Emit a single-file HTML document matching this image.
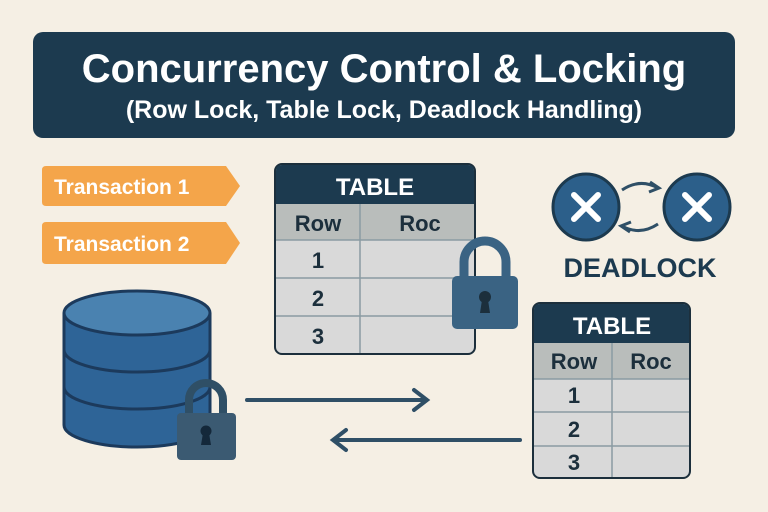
<!DOCTYPE html>
<html><head><style>body{margin:0;background:#f5efe4}svg{display:block}</style></head><body>
<svg width="768" height="512" viewBox="0 0 768 512" xmlns="http://www.w3.org/2000/svg" font-family="Liberation Sans, sans-serif" font-weight="bold">
<rect width="768" height="512" fill="#f5efe4"/>
<rect x="33" y="32" width="702" height="106" rx="10" fill="#1c3a4f"/>
<text x="384" y="82" font-size="40" fill="#fff" text-anchor="middle">Concurrency Control &amp; Locking</text>
<text x="384" y="118" font-size="25" fill="#fff" text-anchor="middle">(Row Lock, Table Lock, Deadlock Handling)</text>
<path d="M42 170 q0-4 4-4 H226 L240 186 L226 206 H46 q-4 0-4-4Z" fill="#f4a54a"/>
<path d="M42 226 q0-4 4-4 H226 L240 243 L226 264 H46 q-4 0-4-4Z" fill="#f4a54a"/>
<text x="54" y="194" font-size="21" fill="#fff">Transaction 1</text>
<text x="54" y="251" font-size="21" fill="#fff">Transaction 2</text>
<!-- table 1 -->
<g>
<rect x="275" y="164" width="200" height="190" rx="7" fill="#d9d9d9" stroke="#1c2f3c" stroke-width="2"/>
<path d="M276 204 V171 q0-6 6-6 H468 q6 0 6 6 V204Z" fill="#1c3a4f"/>
<rect x="276" y="204" width="198" height="36" fill="#b9bdbb"/>
<g stroke="#8a9ba3" stroke-width="1.5"><line x1="360" y1="204" x2="360" y2="353"/><line x1="276" y1="240" x2="474" y2="240"/><line x1="276" y1="278" x2="474" y2="278"/><line x1="276" y1="316" x2="474" y2="316"/></g>
<text x="375" y="195" font-size="24" fill="#fff" text-anchor="middle">TABLE</text>
<g font-size="22" fill="#1c2f3c" text-anchor="middle"><text x="318" y="231">Row</text><text x="420" y="231">Roc</text><text x="318" y="268">1</text><text x="318" y="306">2</text><text x="318" y="344">3</text></g>
</g>
<!-- lock1 -->
<path d="M464 278 V262 a21 21 0 0 1 42 0 V278" fill="none" stroke="#3a6383" stroke-width="9"/>
<rect x="452" y="276" width="66" height="53" rx="5" fill="#3a6383"/>
<circle cx="485" cy="297" r="6" fill="#1c2f3c"/><path d="M482 300 h6 l2 13 h-10Z" fill="#1c2f3c"/>
<!-- table 2 -->
<g>
<rect x="533" y="303" width="157" height="175" rx="7" fill="#d9d9d9" stroke="#1c2f3c" stroke-width="2"/>
<path d="M534 343 V310 q0-6 6-6 H683 q6 0 6 6 V343Z" fill="#1c3a4f"/>
<rect x="534" y="343" width="155" height="36" fill="#b9bdbb"/>
<g stroke="#8a9ba3" stroke-width="1.5"><line x1="612" y1="343" x2="612" y2="477"/><line x1="534" y1="379" x2="689" y2="379"/><line x1="534" y1="412" x2="689" y2="412"/><line x1="534" y1="446" x2="689" y2="446"/></g>
<text x="612" y="334" font-size="24" fill="#fff" text-anchor="middle">TABLE</text>
<g font-size="22" fill="#1c2f3c" text-anchor="middle"><text x="574" y="369">Row</text><text x="651" y="369">Roc</text><text x="574" y="403">1</text><text x="574" y="437">2</text><text x="574" y="470">3</text></g>
</g>
<!-- deadlock -->
<g stroke="#fff" stroke-width="6" stroke-linecap="round">
<circle cx="586" cy="207" r="33" fill="#2c5f8a" stroke="#1c3a4f" stroke-width="3"/>
<line x1="574" y1="195" x2="598" y2="219"/><line x1="598" y1="195" x2="574" y2="219"/>
<circle cx="697" cy="207" r="33" fill="#2c5f8a" stroke="#1c3a4f" stroke-width="3"/>
<line x1="685" y1="195" x2="709" y2="219"/><line x1="709" y1="195" x2="685" y2="219"/>
</g>
<g fill="none" stroke="#2f4f66" stroke-width="3">
<path d="M622 190 q18 -12 36 -2"/><path d="M650 182 l9 6 l-10 4"/>
<path d="M658 224 q-18 12 -36 2"/><path d="M630 232 l-9 -6 l10 -4"/>
</g>
<text x="640" y="277" font-size="27" fill="#1c3a4f" text-anchor="middle">DEADLOCK</text>
<!-- database -->
<g stroke="#1c3a5c" stroke-width="3">
<path d="M64 313 V425 a73 22 0 0 0 146 0 V313" fill="#2e6497"/>
<path d="M64 350 a73 22 0 0 0 146 0" fill="none"/>
<path d="M64 387 a73 22 0 0 0 146 0" fill="none"/>
<ellipse cx="137" cy="313" rx="73" ry="22" fill="#4a82b0"/>
</g>
<path d="M189 415 V400 a17 17 0 0 1 34 0 V415" fill="none" stroke="#2f4f66" stroke-width="8"/>
<rect x="177" y="413" width="59" height="47" rx="4" fill="#3b5a72"/>
<circle cx="206" cy="431" r="5.5" fill="#14283a"/><path d="M203 433 h6 l2 12 h-10Z" fill="#14283a"/>
<!-- arrows -->
<g stroke="#2f4f66" stroke-width="4" fill="none" stroke-linecap="round">
<line x1="247" y1="400" x2="426" y2="400"/><path d="M414 390 l13 10 l-13 10"/>
<line x1="520" y1="440" x2="334" y2="440"/><path d="M346 430 l-13 10 l13 10"/>
</g>
</svg>
</body></html>
